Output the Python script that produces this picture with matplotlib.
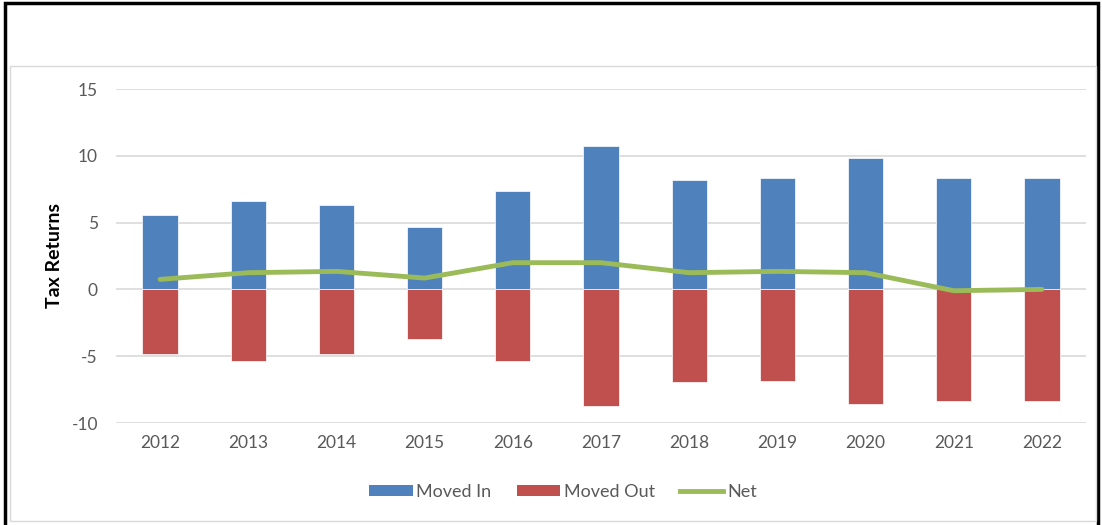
import numpy as np
import matplotlib
matplotlib.use('Agg')
import matplotlib.pyplot as plt
from matplotlib.patches import Rectangle, Patch
from matplotlib.lines import Line2D

years = ['2012', '2013', '2014', '2015', '2016', '2017', '2018', '2019', '2020', '2021', '2022']
moved_in = [5.6, 6.6, 6.35, 4.7, 7.35, 10.75, 8.2, 8.35, 9.85, 8.35, 8.35]
moved_out = [-4.85, -5.35, -4.85, -3.7, -5.35, -8.7, -6.95, -6.85, -8.6, -8.35, -8.35]
net = [0.75, 1.25, 1.35, 0.85, 2.0, 2.0, 1.25, 1.35, 1.25, -0.1, 0.0]

colors = {'in': '#4f81bd', 'out': '#c0504d', 'net': '#9bbb59', 'text': '#595959', 'grid': '#d9d9d9'}

plt.rcParams['font.family'] = ['Lato', 'DejaVu Sans']
plt.rcParams['axes.unicode_minus'] = False

fig = plt.figure(figsize=(11.02, 5.25), dpi=100)
fig.patch.set_facecolor('white')

# outer black frame + inner gray chart box
fig.patches.append(Rectangle((5 / 1102, -0.01), 1093 / 1102, 1.01 - 3 / 525, transform=fig.transFigure,
                             fill=False, edgecolor='black', linewidth=2.5))
fig.patches.append(Rectangle((10 / 1102, 4 / 525), 1086 / 1102, 455 / 525, transform=fig.transFigure,
                             fill=False, edgecolor='#d9d9d9', linewidth=1))

ax = fig.add_axes([116 / 1102, 1 - 423 / 525, 970 / 1102, 334 / 525])
x = np.arange(len(years))
ax.bar(x, moved_in, 0.4, color=colors['in'], edgecolor='white', linewidth=0.5, zorder=2)
ax.bar(x, moved_out, 0.4, color=colors['out'], edgecolor='white', linewidth=0.5, zorder=2)
ax.plot(x, net, color=colors['net'], linewidth=3.5, solid_capstyle='round', zorder=3)

ax.set_xlim(-0.5, len(years) - 0.5)
ax.set_ylim(-10, 15)
ax.set_yticks([-10, -5, 0, 5, 10, 15])
ax.set_xticks(x)
ax.set_xticklabels(years)
ax.grid(axis='y', color=colors['grid'], linewidth=1.2, zorder=0)
ax.set_axisbelow(True)
for s in ax.spines.values():
    s.set_visible(False)
ax.tick_params(length=0, labelsize=12.5, labelcolor=colors['text'])
ax.tick_params(axis='y', pad=13)
ax.tick_params(axis='x', pad=9)
ax.set_ylabel('Tax Returns', fontsize=14, fontweight='bold', color='black', labelpad=6)

handles = [Patch(facecolor=colors['in'], edgecolor='none'),
           Patch(facecolor=colors['out'], edgecolor='none'),
           Line2D([0], [0], color=colors['net'], linewidth=3.5)]
fig.legend(handles, ['Moved In', 'Moved Out', 'Net'], loc='center', bbox_to_anchor=(563 / 1102, 1 - 492 / 525),
           ncol=3, frameon=False, fontsize=13, labelcolor=colors['text'], handlelength=2.4,
           handleheight=0.6, handletextpad=0.2, columnspacing=1.4)

fig.savefig('out.png', dpi=100, facecolor='white')
